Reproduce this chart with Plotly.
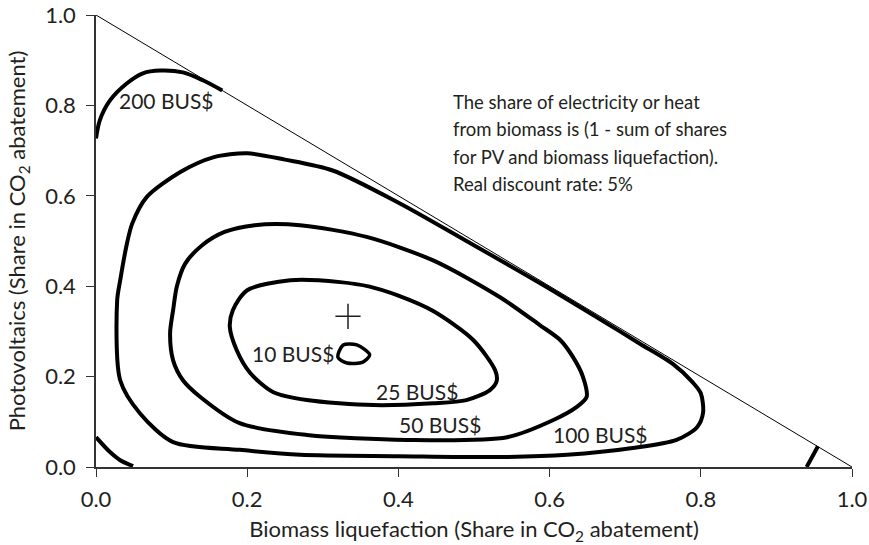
import plotly.graph_objects as go

# Iso-cost contours of cumulative abatement cost (BUS$) over the mix of
# biomass liquefaction (x) and photovoltaics (y) shares.
c200_x = [0.0, 0.005, 0.0185, 0.041, 0.062, 0.085, 0.115, 0.142, 0.167]
c200_y = [0.727, 0.767, 0.811, 0.849, 0.871, 0.877, 0.873, 0.855, 0.833]

c100_x = [0.20, 0.25, 0.313, 0.402, 0.49, 0.587, 0.693, 0.72, 0.763, 0.79, 0.80,
          0.803, 0.795, 0.768, 0.71, 0.623, 0.534, 0.40, 0.27, 0.19, 0.102,
          0.058, 0.032, 0.028, 0.032, 0.041, 0.048, 0.067, 0.111, 0.155, 0.20]
c100_y = [0.694, 0.680, 0.656, 0.583, 0.50, 0.407, 0.300, 0.272, 0.228, 0.186, 0.163,
          0.12, 0.088, 0.06, 0.042, 0.027, 0.022, 0.024, 0.027, 0.038, 0.055,
          0.119, 0.192, 0.369, 0.413, 0.495, 0.539, 0.597, 0.652, 0.685, 0.694]

c50_x = [0.21, 0.27, 0.358, 0.446, 0.534, 0.587, 0.614, 0.631, 0.644, 0.649, 0.636,
         0.605, 0.544, 0.411, 0.279, 0.19, 0.138, 0.115, 0.102, 0.098, 0.102,
         0.107, 0.118, 0.14, 0.17, 0.21]
c50_y = [0.535, 0.535, 0.509, 0.457, 0.376, 0.314, 0.281, 0.243, 0.20, 0.155, 0.133,
         0.104, 0.066, 0.06, 0.071, 0.097, 0.155, 0.192, 0.236, 0.296, 0.347,
         0.40, 0.45, 0.49, 0.52, 0.535]

c25_x = [0.257, 0.323, 0.362, 0.40, 0.446, 0.499, 0.528, 0.53, 0.521, 0.49, 0.446,
         0.367, 0.279, 0.234, 0.204, 0.186, 0.177, 0.181, 0.20, 0.257]
c25_y = [0.413, 0.409, 0.399, 0.379, 0.345, 0.281, 0.214, 0.19, 0.17, 0.148, 0.141,
         0.137, 0.148, 0.166, 0.208, 0.259, 0.31, 0.347, 0.391, 0.413]

c10_x = [0.327, 0.345, 0.362, 0.353, 0.332, 0.32, 0.327]
c10_y = [0.27, 0.27, 0.248, 0.232, 0.23, 0.243, 0.27]

# Short contour pieces at the corners of the triangle
corner_bl_x = [0.0, 0.0185, 0.032, 0.049]
corner_bl_y = [0.066, 0.033, 0.015, 0.002]
corner_br_x = [0.940, 0.955]
corner_br_y = [0.0, 0.046]

# Feasibility boundary: shares sum to one
edge_x = [0.0, 1.0]
edge_y = [1.0, 0.0]

# Equal-share point
centre_x = [1 / 3]
centre_y = [1 / 3]

labels = ["200 BUS$", "100 BUS$", "50 BUS$", "25 BUS$", "10 BUS$"]
label_x = [0.093, 0.667, 0.455, 0.424, 0.26]
label_y = [0.811, 0.071, 0.093, 0.168, 0.252]

ticks = [0.0, 0.2, 0.4, 0.6, 0.8, 1.0]
tick_text = ["0.0", "0.2", "0.4", "0.6", "0.8", "1.0"]

note_lines = ["The share of electricity or heat",
              "from biomass is (1 - sum of shares",
              "for PV and biomass liquefaction).",
              "Real discount rate: 5%"]
note_x = 0.469
note_y = [0.807, 0.747, 0.686, 0.627]

FONT = "Lato"
TEXT = "#231f20"

fig = go.Figure()

fig.add_trace(go.Scatter(x=edge_x, y=edge_y, mode="lines",
                         line=dict(color="black", width=1), hoverinfo="skip"))

for xs, ys, w in [(c200_x, c200_y, 4), (c100_x, c100_y, 4), (c50_x, c50_y, 4),
                  (c25_x, c25_y, 4), (c10_x, c10_y, 3.5),
                  (corner_bl_x, corner_bl_y, 4), (corner_br_x, corner_br_y, 4)]:
    fig.add_trace(go.Scatter(x=xs, y=ys, mode="lines",
                             line=dict(color="black", width=w, shape="spline", smoothing=0.8),
                             cliponaxis=False, hoverinfo="skip"))

fig.add_trace(go.Scatter(x=centre_x, y=centre_y, mode="markers",
                         marker=dict(symbol="cross-thin", size=18,
                                     line=dict(color=TEXT, width=1.5)),
                         hoverinfo="skip"))

for t, lx, ly in zip(labels, label_x, label_y):
    fig.add_annotation(x=lx, y=ly, text=t, showarrow=False,
                       font=dict(family=FONT, size=21, color=TEXT))

for line, ly in zip(note_lines, note_y):
    fig.add_annotation(x=note_x, y=ly, text=line, showarrow=False,
                       xanchor="left", yanchor="middle",
                       font=dict(family=FONT, size=18.5, color=TEXT))

axis_common = dict(range=[0, 1], tickvals=ticks, ticktext=tick_text,
                   ticks="outside", ticklen=8, tickwidth=1.2, tickcolor="#333",
                   showline=True, linecolor="#333", linewidth=1.5,
                   showgrid=False, zeroline=False, automargin=False,
                   tickfont=dict(family=FONT, size=22, color=TEXT))

fig.update_layout(
    width=869, height=545,
    margin=dict(l=96, r=17, t=15, b=78),
    paper_bgcolor="white", plot_bgcolor="white",
    showlegend=False,
    xaxis=dict(axis_common, ticklabelstandoff=4,
               title=dict(text="Biomass liquefaction (Share in CO<sub>2</sub> abatement)",
                          font=dict(family=FONT, size=22, color=TEXT), standoff=16)),
    yaxis=dict(axis_common, ticklabelstandoff=6,
               title=dict(text="Photovoltaics (Share in CO<sub>2</sub> abatement)",
                          font=dict(family=FONT, size=22, color=TEXT), standoff=13)),
)

fig.write_html("out.html")
